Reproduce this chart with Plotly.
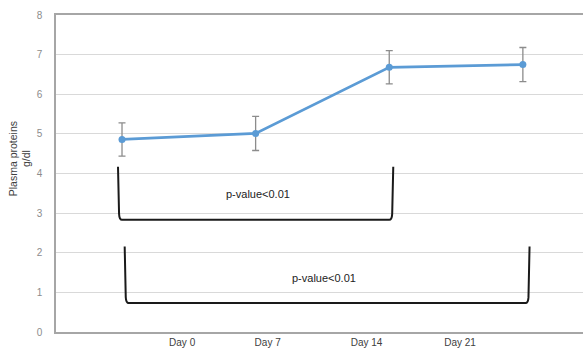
import plotly.graph_objects as go

# Data
days = ["Day 0", "Day 7", "Day 14", "Day 21"]
day_pos = [0, 1, 2, 3]
plasma_protein = [4.86, 5.01, 6.68, 6.75]
plasma_err = [0.42, 0.43, 0.42, 0.43]

# x-axis label placement (labels offset from points, as in the original)
label_pos = [0.45, 1.09, 1.83, 2.53]

# significance brackets
bracket_from = [-0.03, 0.02]
bracket_to = [2.03, 3.05]
bracket_top = [4.17, 2.16]
bracket_bottom = [2.83, 0.73]
bracket_label = ["p-value<0.01", "p-value<0.01"]
bracket_label_x = [1.02, 1.51]
bracket_label_y = [3.48, 1.36]

fig = go.Figure()

fig.add_trace(go.Scatter(
    x=day_pos, y=plasma_protein,
    mode="lines+markers",
    line=dict(color="#5b9bd5", width=2.75),
    marker=dict(color="#5b9bd5", size=7),
    error_y=dict(type="data", array=plasma_err, visible=True,
                 color="#8c8c8c", thickness=1.3, width=3.5),
    showlegend=False,
    hoverinfo="skip",
))

shapes = []
for x0, x1, yt, yb in zip(bracket_from, bracket_to, bracket_top, bracket_bottom):
    dx = 0.03
    dy = 0.15
    path = (f"M {x0},{yt} L {x0 + 0.008},{yb + dy} Q {x0 + 0.01},{yb} {x0 + dx},{yb} "
            f"L {x1 - dx},{yb} Q {x1 - 0.01},{yb} {x1 - 0.008},{yb + dy} L {x1},{yt}")
    shapes.append(dict(type="path", path=path, xref="x", yref="y",
                       line=dict(color="#1a1a1a", width=2)))

annotations = []
for lx, ly, txt in zip(bracket_label_x, bracket_label_y, bracket_label):
    annotations.append(dict(x=lx, y=ly, xref="x", yref="y", text=txt,
                            showarrow=False, font=dict(size=11, color="#222222")))

annotations.append(dict(x=-0.0683, y=0.545, xref="paper", yref="paper",
                        xanchor="center", yanchor="middle",
                        text="Plasma proteins<br>g/dl", textangle=-90,
                        showarrow=False, font=dict(size=10.5, color="#404040")))

fig.update_layout(
    width=585, height=350,
    margin=dict(l=56, r=2, t=15, b=16),
    paper_bgcolor="white", plot_bgcolor="white",
    font=dict(family="Liberation Sans, Arial, sans-serif", size=10, color="#595959"),
    shapes=shapes,
    annotations=annotations,
    hovermode=False,
    xaxis=dict(range=[-0.494, 3.45], tickvals=label_pos, ticktext=days,
               showgrid=False, zeroline=False, showline=True,
               linecolor="#a6a6a6", linewidth=1.5, mirror=True,
               ticks="", tickfont=dict(size=10, color="#404040")),
    yaxis=dict(range=[0, 8], dtick=1, showgrid=True, gridcolor="#d9d9d9",
               gridwidth=1, zeroline=False, showline=True,
               linecolor="#a6a6a6", linewidth=1.5, mirror=False,
               ticks="", ticklabelstandoff=10,
               tickfont=dict(size=10, color="#8c8c8c")),
)

fig.write_html(
    "out.html",
    config={"displayModeBar": False},
    post_script="document.body.style.margin='0';document.body.style.overflow='hidden';",
)
